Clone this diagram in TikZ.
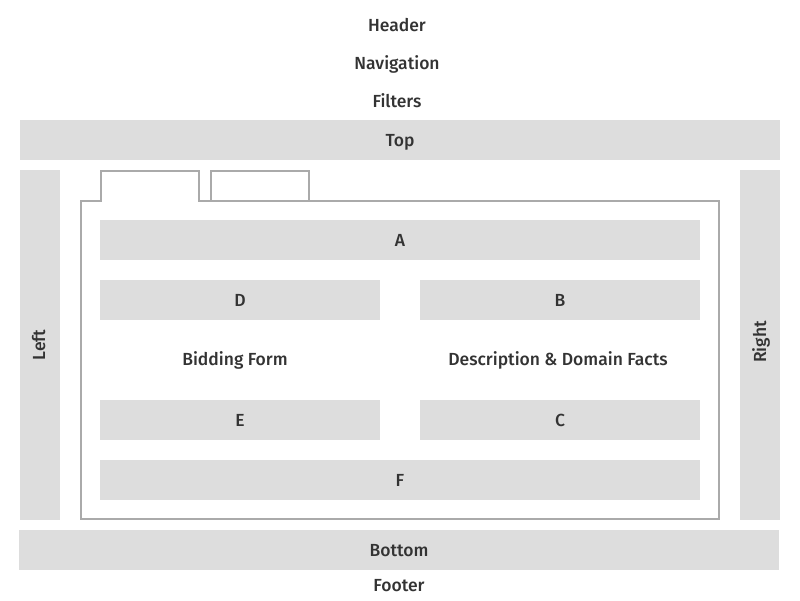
\documentclass[tikz,border=0pt]{standalone}
\usepackage{fontspec}
\setmainfont{Fira Sans}[BoldFont={Fira Sans Medium}]
\definecolor{barfill}{HTML}{DDDDDD}
\definecolor{edge}{HTML}{AAAAAA}
\definecolor{txt}{HTML}{333333}
\begin{document}
\begin{tikzpicture}[x=1pt,y=-1pt,
  bar/.style={fill=barfill, draw=none, inner sep=0pt, text=txt, text height=12pt, text depth=0pt, font=\fontsize{17.5}{20}\selectfont\bfseries},
  lbl/.style={inner sep=0pt, text=txt, text height=12pt, text depth=0pt, font=\fontsize{17.5}{20}\selectfont\bfseries},
  frame/.style={draw=edge, line width=2pt, fill=none}]
\useasboundingbox[fill=white] (0,0) rectangle (800,600);
% top labels
\node[lbl] (header) at (397,25) {Header};
\node[lbl] (nav) at (397,63) {Navigation};
\node[lbl] (filters) at (397,101) {Filters};
\node[bar, minimum width=760, minimum height=40] (top) at (400,140) {Top};
% side bars
\node[bar, minimum width=40, minimum height=350] (left) at (40,345) {};
\node[lbl, rotate=90] (leftlbl) at (39,345) {Left};
\node[bar, minimum width=40, minimum height=350] (right) at (760,345) {};
\node[lbl, rotate=90] (rightlbl) at (760,342) {Right};
% container with tabs
\coordinate (c1) at (81,519);
\coordinate (c2) at (81,201);
\coordinate (t1a) at (101,201);
\coordinate (t1b) at (101,171);
\coordinate (t1c) at (199,171);
\coordinate (t1d) at (199,201);
\coordinate (c3) at (719,201);
\coordinate (c4) at (719,519);
\draw[frame, line join=miter] (c1) -- (c2) -- (t1a) -- (t1b) -- (t1c) -- (t1d) -- (c3) -- (c4) -- cycle;
\coordinate (t2a) at (211,171);
\coordinate (t2b) at (309,201);
\draw[frame] (t2a) rectangle (t2b);
% inner blocks
\node[bar, minimum width=600, minimum height=40] (A) at (400,240) {A};
\node[bar, minimum width=280, minimum height=40] (D) at (240,300) {D};
\node[bar, minimum width=280, minimum height=40] (B) at (560,300) {B};
\node[lbl] (bid) at (235,359) {Bidding Form};
\node[lbl] (desc) at (558,359) {Description \& Domain Facts};
\node[bar, minimum width=280, minimum height=40] (E) at (240,420) {E};
\node[bar, minimum width=280, minimum height=40] (C) at (560,420) {C};
\node[bar, minimum width=600, minimum height=40] (F) at (400,480) {F};
% bottom
\node[bar, minimum width=760, minimum height=40] (bottom) at (399,550) {Bottom};
\node[lbl] (footer) at (399,585) {Footer};
\end{tikzpicture}
\end{document}
